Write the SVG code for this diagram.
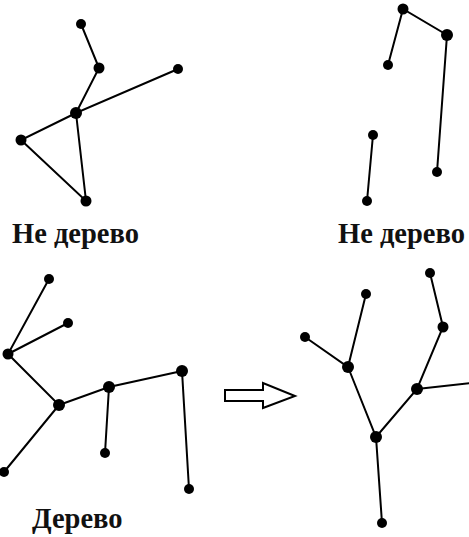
<svg xmlns="http://www.w3.org/2000/svg" width="469" height="537" viewBox="0 0 469 537">
<style>
.e{stroke:#000;stroke-width:2;fill:none}
.n{fill:#000}
.t{font-family:"Liberation Serif","Times New Roman",serif;font-weight:bold;font-size:28.5px;fill:#111}
</style>
<rect width="469" height="537" fill="#fff"/>
<g id="connectors">
<path class="e" d="M81 24L99 68L76 113L178 69M76 113L21 140L86 201L76 113"/>
<path class="e" d="M388 65L403 9L447 35L437 172M373 135L367 201"/>
<path class="e" d="M49 279L8 354L68 323M8 354L59 405L4 472M59 405L109 387L182 371L189 489M109 387L105 453"/>
<path class="e" d="M366 294L348 367L305 337M348 367L376 437L417 389L443 327L430 273M417 389L472 383M376 437L382 523"/>
<path id="arrow" d="M225 390H263V383L295 396L263 408V401H225Z" fill="#fff" stroke="#000" stroke-width="2" stroke-linejoin="miter"/>
</g>
<g id="g1">
<circle class="n" cx="81" cy="24" r="5"/><circle class="n" cx="99" cy="68" r="5.5"/><circle class="n" cx="178" cy="69" r="5"/><circle class="n" cx="76" cy="113" r="6"/><circle class="n" cx="21" cy="140" r="5.5"/><circle class="n" cx="86" cy="201" r="5.5"/>
</g>
<g id="g2">
<circle class="n" cx="403" cy="9" r="5.5"/><circle class="n" cx="447" cy="35" r="6"/><circle class="n" cx="388" cy="65" r="5"/><circle class="n" cx="373" cy="135" r="5"/><circle class="n" cx="437" cy="172" r="5"/><circle class="n" cx="367" cy="201" r="5"/>
</g>
<g id="g3">
<circle class="n" cx="49" cy="279" r="5"/><circle class="n" cx="68" cy="323" r="5"/><circle class="n" cx="8" cy="354" r="5.5"/><circle class="n" cx="59" cy="405" r="6"/><circle class="n" cx="109" cy="387" r="6"/><circle class="n" cx="182" cy="371" r="6"/><circle class="n" cx="4" cy="472" r="5"/><circle class="n" cx="105" cy="453" r="5"/><circle class="n" cx="189" cy="489" r="5"/>
</g>
<g id="g4">
<circle class="n" cx="366" cy="294" r="5"/><circle class="n" cx="305" cy="337" r="5"/><circle class="n" cx="348" cy="367" r="6"/><circle class="n" cx="430" cy="273" r="5"/><circle class="n" cx="443" cy="327" r="5.5"/><circle class="n" cx="417" cy="389" r="6"/><circle class="n" cx="376" cy="437" r="6"/><circle class="n" cx="382" cy="523" r="5"/>
</g>
<g id="labels">
<text class="t" x="12" y="243">Не дерево</text>
<text class="t" x="338" y="243">Не дерево</text>
<text class="t" x="32" y="528">Дерево</text>
</g>
</svg>
